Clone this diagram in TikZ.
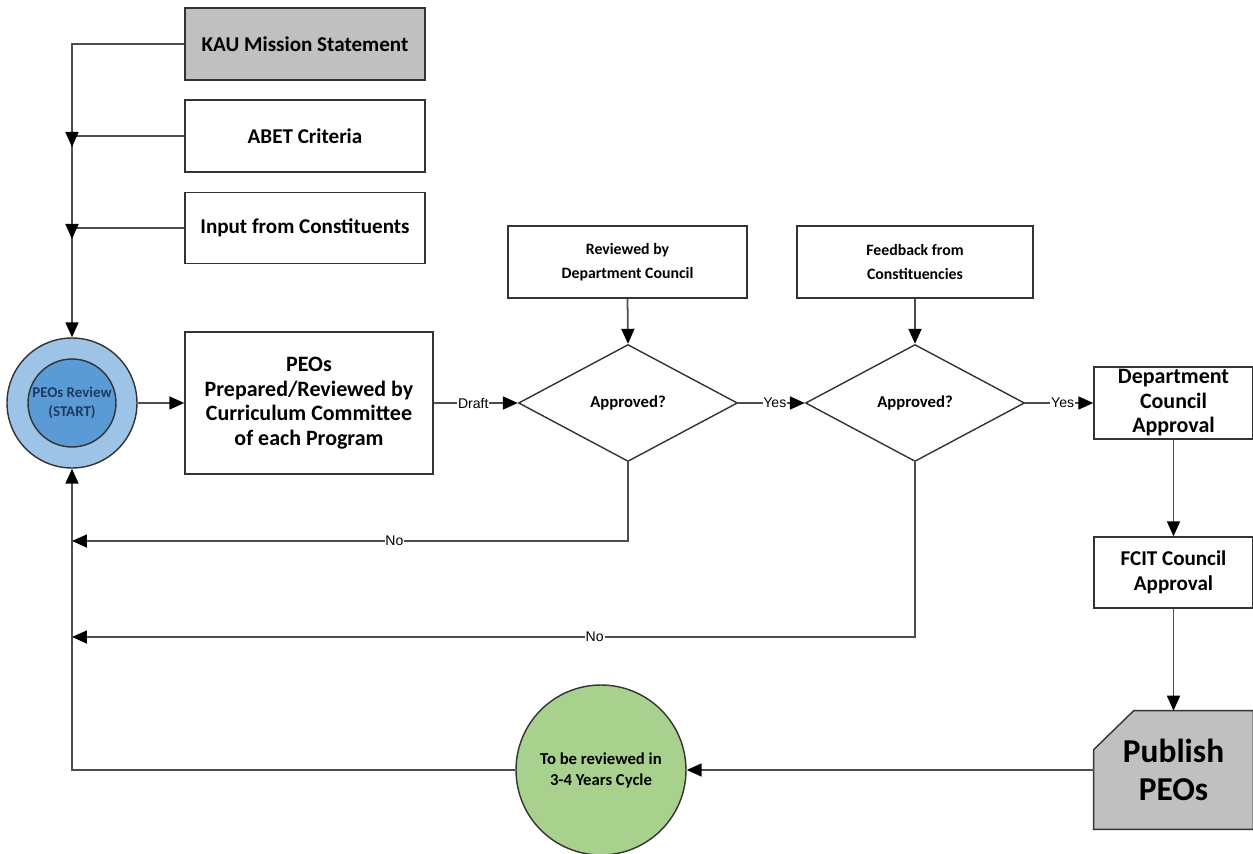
\documentclass[tikz,border=0pt]{standalone}
\usepackage{fontspec}
\setmainfont{Carlito}
\newfontfamily\lblfont{Liberation Sans}
\usetikzlibrary{arrows.meta,shapes.geometric,calc}
\definecolor{bordc}{HTML}{333333}
\definecolor{linec}{HTML}{4D4D4D}
\definecolor{greyfill}{HTML}{C0C0C0}
\definecolor{greenfill}{HTML}{A9D18E}
\definecolor{outerblue}{HTML}{9DC3E6}
\definecolor{innerblue}{HTML}{5B9BD5}
\definecolor{darkbluetext}{HTML}{1F3864}
\begin{document}
\begin{tikzpicture}[x=0.02cm,y=-0.02cm,
  box/.style={draw=bordc,line width=0.8pt,fill=white,rectangle,align=center,inner sep=2pt,font=\bfseries},
  dec/.style={draw=bordc,line width=0.8pt,fill=white,diamond,inner sep=0pt,minimum width=4.38cm,minimum height=2.34cm,font=\bfseries\fontsize{9.5}{11}\selectfont},
  conn/.style={draw=linec,line width=1pt},
  arr/.style={conn,-{Triangle[length=0.3cm,width=0.26cm,color=black]}},
  lbl/.style={fill=white,inner sep=0.5pt,font=\lblfont\fontsize{8}{9}\selectfont}]
\useasboundingbox (0,0) rectangle (1253,854);
% left input boxes
\node[box,fill=greyfill,minimum width=4.8cm,minimum height=1.44cm,font=\bfseries\fontsize{12}{14}\selectfont] (kau) at (305,44) {KAU Mission Statement};
\node[box,minimum width=4.8cm,minimum height=1.44cm,font=\bfseries\fontsize{12}{14}\selectfont] (abet) at (305,136) {ABET Criteria};
\node[box,minimum width=4.8cm,minimum height=1.42cm,font=\bfseries\fontsize{12}{14}\selectfont] (input) at (305,228) {Input from Constituents};
% start circle
\node[circle,draw=bordc,line width=0.8pt,fill=outerblue,minimum size=2.6cm,inner sep=0pt] (start) at (72,403) {};
\node[circle,draw=bordc,line width=0.8pt,fill=innerblue,minimum size=1.76cm,inner sep=0pt,align=center,text=darkbluetext,font=\bfseries\fontsize{8.5}{11}\selectfont] (startin) at (72,403) {PEOs Review\\(START)};
% main row
\node[box,minimum width=4.96cm,minimum height=2.84cm,font=\bfseries\fontsize{12.5}{14}\selectfont] (peos) at (309,403) {PEOs\\Prepared/Reviewed by\\Curriculum Committee\\of each Program};
\node[box,minimum width=4.78cm,minimum height=1.44cm,font=\bfseries\fontsize{9}{14}\selectfont] (rev) at (627.5,262) {Reviewed by\\Department Council};
\node[box,minimum width=4.72cm,minimum height=1.44cm,font=\bfseries\fontsize{9}{14}\selectfont] (fb) at (915,262) {Feedback from\\Constituencies};
\node[dec] (d1) at (628,403) {Approved?};
\node[dec] (d2) at (915,403) {Approved?};
\node[box,minimum width=3.18cm,minimum height=1.44cm,inner sep=0pt,font=\bfseries\fontsize{12.5}{14}\selectfont] (dca) at (1173.5,403) {Department\\Council\\Approval};
\node[box,minimum width=3.18cm,minimum height=1.42cm,font=\bfseries\fontsize{12}{14}\selectfont] (fcit) at (1173.5,572.5) {FCIT Council\\Approval};
% publish (chamfered, drawn by hand around a named node)
\node[rectangle,minimum width=3.18cm,minimum height=2.36cm,inner sep=0pt] (pub) at (1173.5,770) {};
\draw[draw=bordc,line width=0.8pt,fill=greyfill]
  ($(pub.north west)+(40,0)$) -- (pub.north east) -- (pub.south east) -- (pub.south west) -- ($(pub.north west)+(0,39)$) -- cycle;
\node[align=center,font=\bfseries\fontsize{19}{22}\selectfont] (publbl) at (pub.center) {Publish\\PEOs};
\node[circle,draw=bordc,line width=0.8pt,fill=greenfill,minimum size=3.4cm,inner sep=0pt,align=center,font=\bfseries\fontsize{9.5}{12}\selectfont] (green) at (601,770) {To be reviewed in\\3-4 Years Cycle};
% junctions
\coordinate (j1) at (72,136);
\coordinate (j2) at (72,228);
\coordinate (n1) at (72,541);
\coordinate (n2) at (72,637);
% connectors
\draw[arr] (kau.west) -| (start.north);
\draw[conn] (abet.west) -- (j1);
\draw[conn] (input.west) -- (j2);
\draw[arr] ($(j1)+(0,-4)$) -- ($(j1)+(0,11)$);
\draw[arr] ($(j2)+(0,-4)$) -- ($(j2)+(0,11)$);
\draw[arr] (start.east) -- (peos.west);
\draw[arr] (peos.east) -- node[lbl,pos=0.47] {Draft} (d1.west);
\draw[arr] (rev.south) -- (d1.north);
\draw[arr] (d1.east) -- node[lbl,pos=0.55] {Yes} (d2.west);
\draw[arr] (fb.south) -- (d2.north);
\draw[arr] (d2.east) -- node[lbl,pos=0.55] {Yes} (dca.west);
\draw[arr] (dca.south) -- (fcit.north);
\draw[arr] (fcit.south) -- (pub.north);
\draw[arr] (pub.west) -- (green.east);
\draw[arr] (green.west) -| (start.south);
\draw[arr] (d1.south) |- node[lbl,pos=0.71] {No} (n1);
\draw[arr] (d2.south) |- node[lbl,pos=0.69] {No} (n2);
\end{tikzpicture}
\end{document}
